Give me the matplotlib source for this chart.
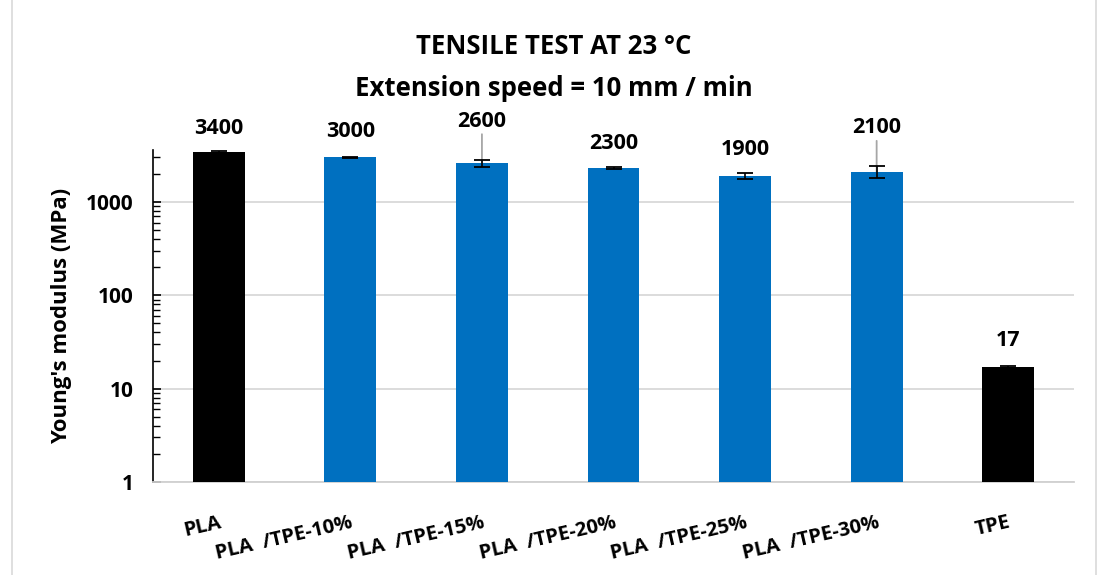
import numpy as np
import matplotlib.pyplot as plt
from matplotlib.patches import Rectangle
from matplotlib.ticker import LogLocator, FixedLocator, NullFormatter

# data
categories = ["PLA", "PLA  /TPE-10%", "PLA  /TPE-15%", "PLA  /TPE-20%",
              "PLA  /TPE-25%", "PLA  /TPE-30%", "TPE"]
modulus = [3400, 3000, 2600, 2300, 1900, 2100, 17]
modulus_err = [90, 60, 220, 50, 150, 300, 0.5]
value_labels = ["3400", "3000", "2600", "2300", "1900", "2100", "17"]

bar_colors = ["black", "#0070C0", "#0070C0", "#0070C0", "#0070C0", "#0070C0", "black"]
label_offsets = [24, 26, 42, 25, 26, 44, 27]   # pixels above bar top (label centre)
has_leader = [False, False, True, False, False, True, False]

plt.rcParams['font.family'] = ['Open Sans', 'DejaVu Sans']

fig = plt.figure(figsize=(11.08, 5.75), dpi=100)
ax = fig.add_axes([153/1108, 1 - 482/575, (1074-153)/1108, (482-150)/575])

# chart border
fig.patches.append(Rectangle((12/1108, -0.01), 1 - 24/1108, 1.02, transform=fig.transFigure,
                             fill=False, edgecolor="#D9D9D9", linewidth=1.2))

x = np.arange(len(categories))
ax.bar(x, modulus, width=0.395, color=bar_colors, zorder=3)
ax.errorbar(x, modulus, yerr=modulus_err, fmt="none", ecolor="black",
            elinewidth=1.2, capsize=6, capthick=1.3, zorder=4)

ax.set_yscale("log")
ax.set_ylim(1, 3600)
ax.set_xlim(-0.5, len(categories) - 0.5)

for i, v in enumerate(modulus):
    ax.annotate(value_labels[i], (x[i], v), xytext=(0, label_offsets[i]),
                textcoords="offset pixels", ha="center", va="center",
                fontsize=15.5, fontweight="bold", zorder=5)
    if has_leader[i]:
        ax.annotate("", (x[i], v), xytext=(0, label_offsets[i] - 13),
                    textcoords="offset pixels",
                    arrowprops=dict(arrowstyle="-", color="#A6A6A6", lw=1.3,
                                    shrinkA=0, shrinkB=0), zorder=2)

ax.yaxis.set_major_locator(FixedLocator([1, 10, 100, 1000]))
ax.set_yticklabels(["1", "10", "100", "1000"])
ax.yaxis.set_minor_locator(LogLocator(base=10, subs=np.arange(2, 10)))
ax.yaxis.set_minor_formatter(NullFormatter())
ax.tick_params(axis="y", which="major", direction="in", length=6, width=1.2,
               labelsize=15, pad=14)
ax.tick_params(axis="y", which="minor", direction="in", length=5, width=1.0)
for t in ax.get_yticklabels():
    t.set_fontweight("bold")

ax.set_xticks(x)
ax.set_xticklabels(categories, rotation=13, ha="right", rotation_mode="anchor",
                   fontsize=14.5, fontweight="bold")
ax.tick_params(axis="x", length=0, pad=22)

ax.grid(axis="y", which="major", color="#D9D9D9", linewidth=1.3, zorder=0)
ax.spines["top"].set_visible(False)
ax.spines["right"].set_visible(False)
ax.spines["left"].set_color("black")
ax.spines["left"].set_linewidth(1.2)
ax.spines["bottom"].set_color("#D0D0D0")
ax.spines["bottom"].set_linewidth(1.3)

ax.set_ylabel("Young's modulus (MPa)", fontsize=16, fontweight="bold", labelpad=10)

fig.text(0.5, 1 - 47/575, "TENSILE TEST AT 23 °C", ha="center", va="center",
         fontsize=18.5, fontweight="bold")
fig.text(0.5, 1 - 88/575, "Extension speed = 10 mm / min", ha="center", va="center",
         fontsize=18.5, fontweight="bold")

fig.savefig("out.png", dpi=100)
